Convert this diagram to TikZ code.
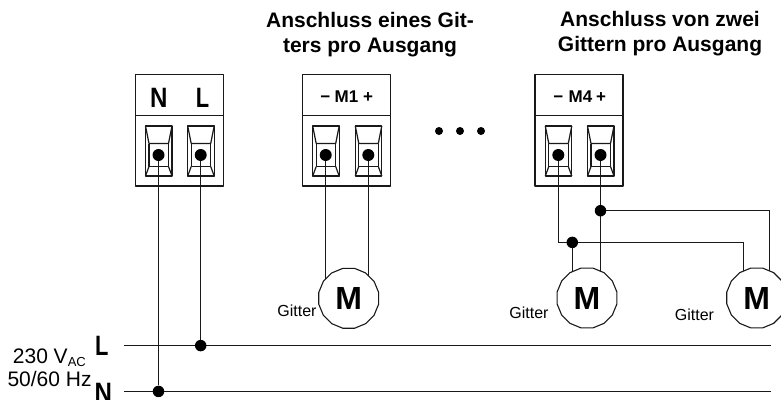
\documentclass[tikz,border=0pt]{standalone}
\usepackage{fontspec}
\setmainfont{Liberation Sans}
\usetikzlibrary{shapes.geometric,calc,backgrounds}
\tikzset{
  px/.style={x=1pt,y=-1pt},
  wire/.style={draw=black!90,line width=1.25pt},
  boxln/.style={draw=black!90,line width=1.2pt,line join=round},
  jdot/.style={circle,fill=black,inner sep=0pt,minimum size=11.5pt},
  tdot/.style={circle,fill=black,inner sep=0pt,minimum size=12pt},
  edot/.style={circle,fill=black,inner sep=0pt,minimum size=8pt},
  motor/.style={regular polygon,regular polygon sides=16,draw=black!90,fill=white,line width=1.1pt,minimum size=61pt,inner sep=0pt,font=\bfseries\fontsize{32}{32}\selectfont},
  head/.style={font=\bfseries\fontsize{21}{25}\selectfont,align=center,inner sep=0pt},
  small/.style={font=\fontsize{16}{18}\selectfont,inner sep=0pt},
  volt/.style={font=\fontsize{21}{24}\selectfont,inner sep=0pt,anchor=base west},
  term/.style={inner sep=0pt,anchor=base,font=\bfseries\fontsize{28}{28}\selectfont},
  termm/.style={inner sep=0pt,anchor=base,font=\bfseries\fontsize{17}{17}\selectfont},
}
\newcommand{\letN}{\scalebox{.86}[1]{N}}
\newcommand{\letL}{\scalebox{.78}[1]{L}}
\newcommand{\terminal}[2]{% centre x, name
  \begin{scope}[shift={(#1,0)}]
    \draw[boxln] (-13,126) rectangle (13.5,176);
    \draw[boxln] (-13,126) -- (-9.5,143.5) -- (10,143.5) -- (13.5,126);
    \draw[boxln] (-9.5,143.5) -- (-9.5,166.5) -- (10,166.5) -- (10,143.5);
    \draw[boxln] (-13,176) -- (-9.5,166.5) (13.5,176) -- (10,166.5);
    \node[tdot] (#2) at (0,155) {};
  \end{scope}}
\newcommand{\klemme}[1]{% left x
  \draw[boxln] (#1,74.7) rectangle ++(88,111.3);
  \draw[boxln] (#1,115.7) -- ++(88,0);}
\begin{document}
\begin{tikzpicture}[px]
\useasboundingbox (0,0) rectangle (781,399);
\clip (0,0) rectangle (781,399);
\klemme{135.3}
\klemme{302.3}
\klemme{535}
\terminal{158.5}{tn}
\terminal{200.7}{tl}
\terminal{325.7}{ta}
\terminal{368.3}{tb}
\terminal{558.3}{tc}
\terminal{600.5}{td}
\node[term] (ln) at (158.7,107.3) {\letN};
\node[term] (ll) at (202.6,107.3) {\letL};
\node[termm] (m1) at (346.5,102.7) {M1};
\node[termm] (m1m) at (325.3,102.7) {−};
\node[termm] (m1p) at (368,102.7) {+};
\node[termm] (m4) at (580.5,102.7) {M4};
\node[termm] (m4m) at (558.3,102.7) {−};
\node[termm] (m4p) at (601,102.7) {+};
\node[edot] (d1) at (439,131) {};
\node[edot] (d2) at (460,131) {};
\node[edot] (d3) at (481,131) {};
\node[head] (h1) at (370,35) {Anschluss eines Git-\\ters pro Ausgang};
\node[head] (h2) at (660,34) {Anschluss von zwei\\Gittern pro Ausgang};
\node[motor] (ma) at (348.7,298.3) {M};
\node[motor] (mb) at (587,298) {M};
\node[motor] (mc) at (756.7,298) {M};
\node[small] (ga) at (297,311) {Gitter};
\node[small] (gb) at (529,312.7) {Gitter};
\node[small] (gc) at (694.5,314.3) {Gitter};
\coordinate (lstart) at (124,345.6);
\coordinate (lend) at (771,345.6);
\coordinate (nstart) at (124,391.4);
\coordinate (nend) at (771,391.4);
\node[jdot] (jl) at (tl |- lstart) {};
\node[jdot] (jn) at (tn |- nstart) {};
\node[jdot] (jc) at (572.3,242.4) {};
\node[jdot] (jd) at (td |- 0,210.7) {};
\coordinate (c1) at (tc |- jc);
\coordinate (c2) at (743.4,242.4);
\coordinate (c3) at (769.4,210.7);
\begin{scope}[on background layer]
\draw[wire] (lstart) -- (lend);
\draw[wire] (nstart) -- (nend);
\draw[wire] (tn) -- (jn);
\draw[wire] (tl) -- (jl);
\draw[wire] (ta) -- (ta |- ma);
\draw[wire] (tb) -- (tb |- ma);
\draw[wire] (tc) -- (c1) -- (c2) -- (c2 |- mc);
\draw[wire] (jc) -- (jc |- mb);
\draw[wire] (td) -- (td |- mb);
\draw[wire] (jd) -- (c3) -- (c3 |- mc);
\end{scope}
\node[volt] (v) at (12.7,363.3) {230 V\raisebox{-0.15em}{\fontsize{13}{13}\selectfont AC}};
\node[volt] (f) at (7.3,386.7) {50/60 Hz};
\node[term] (pl) at (101.7,355) {\letL};
\node[term] (pn) at (103.3,402) {\letN};
\end{tikzpicture}
\end{document}
